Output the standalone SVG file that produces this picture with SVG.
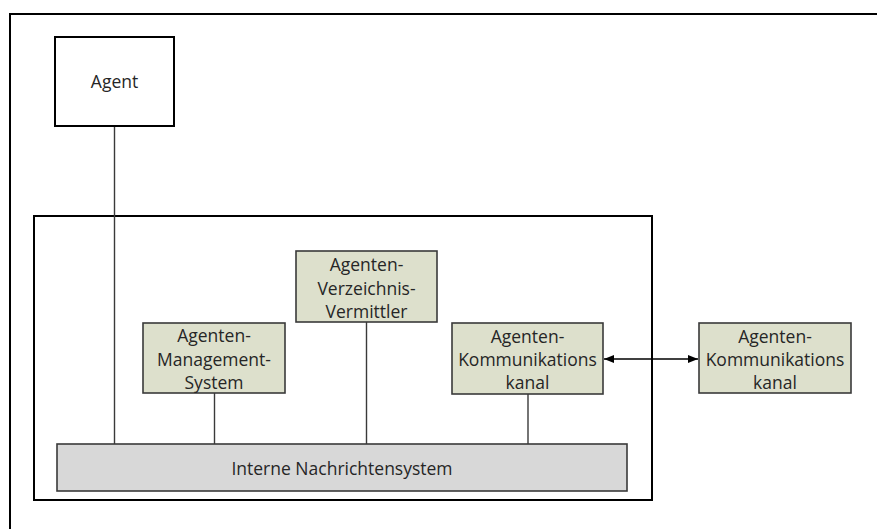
<svg xmlns="http://www.w3.org/2000/svg" width="877" height="529" viewBox="0 0 877 529">
  <defs>
    <style>
      .lbl { font-family: "Open Sans", "Liberation Sans", sans-serif; font-size: 17.5px; fill: #262626; text-anchor: middle; dominant-baseline: central; }
      .comp { fill: #dde0cc; stroke: #3a3a3a; stroke-width: 1.6; }
      .bus { fill: #d8d8d8; stroke: #3a3a3a; stroke-width: 1.6; }
      .link { stroke: #3a3a3a; stroke-width: 1.4; fill: none; }
    </style>
    <marker id="head" viewBox="0 0 10 8" refX="10" refY="4" markerWidth="10" markerHeight="8" markerUnits="userSpaceOnUse" orient="auto-start-reverse">
      <path d="M0,0 L10,4 L0,8 Z" fill="#000"/>
    </marker>
  </defs>

  <rect width="877" height="529" fill="#fff"/>

  <!-- page frame -->
  <path d="M10,529 V14 H877" fill="none" stroke="#000" stroke-width="2"/>

  <!-- platform container -->
  <rect id="platform" x="34" y="216" width="618" height="284" fill="none" stroke="#000" stroke-width="2"/>

  <g id="connectors">
    <line class="link" x1="114.5" y1="126" x2="114.5" y2="444"/>
    <line class="link" x1="214.5" y1="393" x2="214.5" y2="444"/>
    <line class="link" x1="366.5" y1="322" x2="366.5" y2="444"/>
    <line class="link" x1="528" y1="394" x2="528" y2="444"/>
    <line x1="604" y1="359" x2="698" y2="359" stroke="#000" stroke-width="1.3" marker-start="url(#head)" marker-end="url(#head)"/>
  </g>

  <g id="agent">
    <rect x="55" y="37" width="119" height="89" fill="#fff" stroke="#000" stroke-width="2"/>
    <text class="lbl" x="114.5" y="81">Agent</text>
  </g>

  <g id="ams">
    <rect class="comp" x="143" y="323" width="142" height="70"/>
    <text class="lbl" x="214" y="335">Agenten-</text>
    <text class="lbl" x="214" y="358.5">Management-</text>
    <text class="lbl" x="214" y="382">System</text>
  </g>

  <g id="avv">
    <rect class="comp" x="296" y="251" width="141" height="71"/>
    <text class="lbl" x="366.5" y="263.5">Agenten-</text>
    <text class="lbl" x="366.5" y="287.5">Verzeichnis-</text>
    <text class="lbl" x="366.5" y="311">Vermittler</text>
  </g>

  <g id="akk-inner">
    <rect class="comp" x="452" y="323" width="151" height="71"/>
    <text class="lbl" x="527.5" y="336">Agenten-</text>
    <text class="lbl" x="527.5" y="358.5">Kommunikations</text>
    <text class="lbl" x="527.5" y="382">kanal</text>
  </g>

  <g id="akk-outer">
    <rect class="comp" x="699" y="323" width="152" height="70"/>
    <text class="lbl" x="775" y="336">Agenten-</text>
    <text class="lbl" x="775" y="358.5">Kommunikations</text>
    <text class="lbl" x="775" y="382">kanal</text>
  </g>

  <g id="bus">
    <rect class="bus" x="57" y="444" width="570" height="47"/>
    <text class="lbl" x="342" y="467.5">Interne Nachrichtensystem</text>
  </g>
</svg>
